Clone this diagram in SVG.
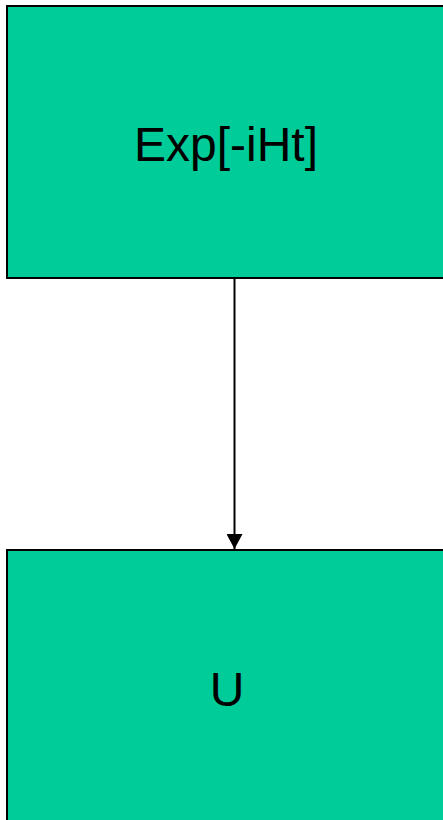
<svg xmlns="http://www.w3.org/2000/svg" width="443" height="820" viewBox="0 0 443 820">
<style>
.box{fill:#00CC99;stroke:#000;stroke-width:2}
.lbl{font-family:"Liberation Sans",Arial,sans-serif;font-size:48px;fill:#000;text-anchor:middle}
</style>
<defs>
<marker id="arr" markerUnits="userSpaceOnUse" markerWidth="16" markerHeight="16" refX="15" refY="8" orient="auto">
<path d="M0,0 L15,8 L0,16 Z" fill="#000"/>
</marker>
</defs>
<rect width="443" height="820" fill="#fff"/>
<g id="node-exp">
<rect class="box" x="7" y="6" width="460" height="272"/>
<text class="lbl" x="226" y="161">Exp[-iHt]</text>
</g>
<g id="node-u">
<rect class="box" x="7" y="550" width="460" height="290"/>
<text class="lbl" x="227" y="706">U</text>
</g>
<g id="connectors">
<line x1="234.5" y1="279" x2="234.5" y2="549" stroke="#000" stroke-width="2" marker-end="url(#arr)"/>
</g>
</svg>
